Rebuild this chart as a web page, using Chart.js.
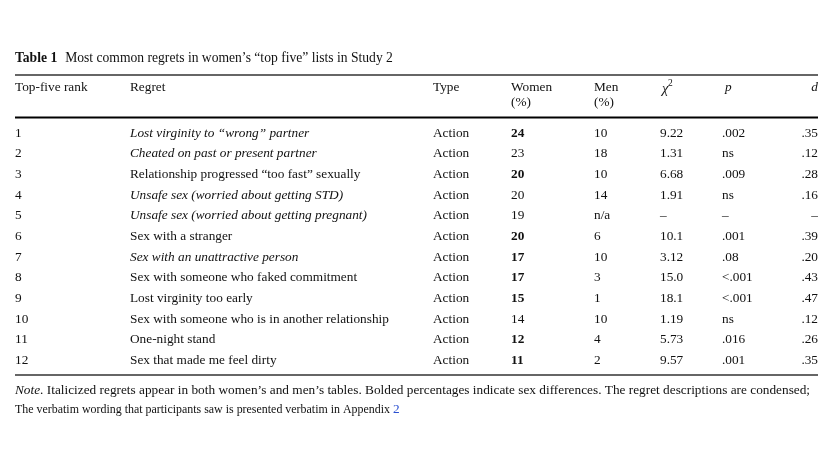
<!DOCTYPE html>
<html>
<head>
<meta charset="utf-8">
<script src="https://cdn.jsdelivr.net/npm/chart.js@4"></script>
<style>
  html, body { margin: 0; padding: 0; background: #fff; }
  #box { width: 834px; height: 460px; }
</style>
</head>
<body>
<div id="box"><canvas id="tabela"></canvas></div>
<script>
// dados da tabela
var ranks = ["1", "2", "3", "4", "5", "6", "7", "8", "9", "10", "11", "12"];
var regrets = [
  "Lost virginity to \u201cwrong\u201d partner",
  "Cheated on past or present partner",
  "Relationship progressed \u201ctoo fast\u201d sexually",
  "Unsafe sex (worried about getting STD)",
  "Unsafe sex (worried about getting pregnant)",
  "Sex with a stranger",
  "Sex with an unattractive person",
  "Sex with someone who faked commitment",
  "Lost virginity too early",
  "Sex with someone who is in another relationship",
  "One-night stand",
  "Sex that made me feel dirty"
];
var italicRegret = [true, true, false, true, true, false, true, false, false, false, false, false];
var types = ["Action", "Action", "Action", "Action", "Action", "Action", "Action", "Action", "Action", "Action", "Action", "Action"];
var women = ["24", "23", "20", "20", "19", "20", "17", "17", "15", "14", "12", "11"];
var boldWomen = [true, false, true, false, false, true, true, true, true, false, true, true];
var men = ["10", "18", "10", "14", "n/a", "6", "10", "3", "1", "10", "4", "2"];
var chi2 = ["9.22", "1.31", "6.68", "1.91", "\u2013", "10.1", "3.12", "15.0", "18.1", "1.19", "5.73", "9.57"];
var pVals = [".002", "ns", ".009", "ns", "\u2013", ".001", ".08", "<.001", "<.001", "ns", ".016", ".001"];
var dVals = [".35", ".12", ".28", ".16", "\u2013", ".39", ".20", ".43", ".47", ".12", ".26", ".35"];

// posicoes das colunas (em pixels da escala x)
var col = { rank: 15, regret: 130, type: 433, women: 511, men: 594, chi: 660, p: 722, d: 818 };
var serif = "'Liberation Serif', 'Times New Roman', serif";
var tam = 13.3;

function fonte(estilo, t) {
  return estilo + " " + t + "px " + serif;
}

function linha(ctx, y, x1, x2, larg, cor) {
  ctx.save();
  ctx.strokeStyle = cor;
  ctx.lineWidth = larg;
  ctx.beginPath();
  ctx.moveTo(x1, y);
  ctx.lineTo(x2, y);
  ctx.stroke();
  ctx.restore();
}

var desenhaTabela = {
  id: "desenhaTabela",
  afterDraw: function (chart) {
    var ctx = chart.ctx;
    var sx = chart.scales.x;
    var sy = chart.scales.y;
    var X = function (v) { return sx.getPixelForValue(v); };
    ctx.save();
    ctx.fillStyle = "#111";
    ctx.textBaseline = "middle";
    ctx.textAlign = "left";

    // titulo
    ctx.font = fonte("bold", 13.6);
    ctx.fillText("Table 1", X(15), 58);
    var w = ctx.measureText("Table 1").width;
    ctx.font = fonte("normal", 13.6);
    ctx.fillText("Most common regrets in women\u2019s \u201ctop five\u201d lists in Study 2", X(15) + w + 8, 58);

    // regras
    linha(ctx, 75, X(15), X(818), 1.5, "#333");
    linha(ctx, 117.5, X(15), X(818), 2, "#000");
    linha(ctx, 375, X(15), X(818), 1.5, "#333");

    // cabecalho
    ctx.font = fonte("normal", tam);
    ctx.fillText("Top-five rank", X(col.rank), 88);
    ctx.fillText("Regret", X(col.regret), 88);
    ctx.fillText("Type", X(col.type), 88);
    ctx.fillText("Women", X(col.women), 88);
    ctx.fillText("(%)", X(col.women), 103);
    ctx.fillText("Men", X(col.men), 88);
    ctx.fillText("(%)", X(col.men), 103);
    ctx.font = fonte("italic", 14.5);
    ctx.fillText("\u03c7", X(col.chi + 2), 89);
    ctx.font = fonte("normal", 9.5);
    ctx.fillText("2", X(col.chi + 8), 83);
    ctx.font = fonte("italic", tam);
    ctx.fillText("p", X(col.p + 3), 88);
    ctx.textAlign = "right";
    ctx.fillText("d", X(col.d), 88);
    ctx.textAlign = "left";

    // linhas da tabela
    for (var i = 0; i < ranks.length; i++) {
      var y = sy.getPixelForValue(i) + 1;
      ctx.font = fonte("normal", tam);
      ctx.fillText(ranks[i], X(col.rank), y);
      ctx.font = fonte(italicRegret[i] ? "italic" : "normal", tam);
      ctx.fillText(regrets[i], X(col.regret), y);
      ctx.font = fonte("normal", tam);
      ctx.fillText(types[i], X(col.type), y);
      ctx.font = fonte(boldWomen[i] ? "bold" : "normal", tam);
      ctx.fillText(women[i], X(col.women), y);
      ctx.font = fonte("normal", tam);
      ctx.fillText(men[i], X(col.men), y);
      ctx.fillText(chi2[i], X(col.chi), y);
      ctx.fillText(pVals[i], X(col.p), y);
      ctx.textAlign = "right";
      ctx.fillText(dVals[i], X(col.d), y);
      ctx.textAlign = "left";
    }

    // nota
    ctx.font = fonte("italic", tam);
    ctx.fillText("Note", X(15), 391);
    var wn = ctx.measureText("Note").width;
    ctx.font = fonte("normal", tam);
    var nota1 = ". Italicized regrets appear in both women\u2019s and men\u2019s tables. Bolded percentages indicate sex differences. The regret descriptions are condensed;";
    ctx.fillText(nota1, X(15) + wn, 391, X(815) - X(15) - wn);
    var nota2 = "The verbatim wording that participants saw is presented verbatim in Appendix ";
    var larg2 = Math.min(ctx.measureText(nota2).width, 378);
    ctx.fillText(nota2, X(15), 410, larg2);
    ctx.fillStyle = "#2a4fd0";
    ctx.fillText("2", X(15) + larg2, 410);
    ctx.restore();
  }
};

new Chart(document.getElementById("tabela"), {
  type: "scatter",
  data: {
    datasets: [{
      data: ranks.map(function (r, i) { return { x: col.rank, y: i }; }),
      pointRadius: 0,
      showLine: false
    }]
  },
  options: {
    responsive: true,
    maintainAspectRatio: false,
    animation: false,
    layout: { padding: { left: 0, right: 0, top: 122, bottom: 90 } },
    plugins: { legend: { display: false }, tooltip: { enabled: false } },
    scales: {
      x: { type: "linear", min: 0, max: 834, display: false },
      y: { type: "linear", min: -0.5, max: 11.5, reverse: true, display: false }
    }
  },
  plugins: [desenhaTabela]
});
</script>
</body>
</html>
